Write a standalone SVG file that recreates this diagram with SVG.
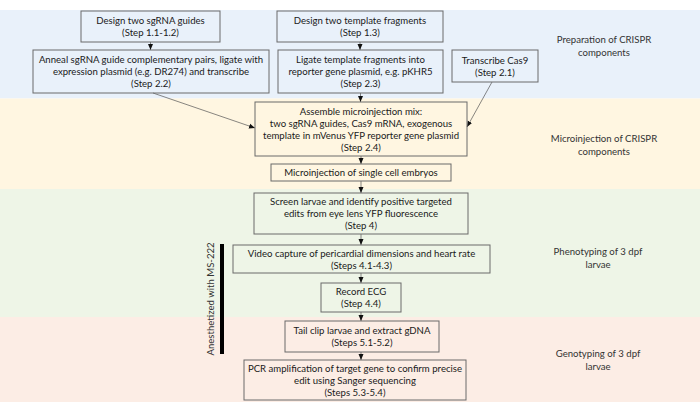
<svg xmlns="http://www.w3.org/2000/svg" width="700" height="412" viewBox="0 0 700 412">
<defs>
<style>
.box{fill:none;stroke:#6a6a6a;stroke-width:1}
.t{font-family:Lato,"Liberation Sans",sans-serif;font-size:9.6px;fill:#1a1a1a;text-anchor:middle}
.lab{font-family:Lato,"Liberation Sans",sans-serif;font-size:9.6px;fill:#333;text-anchor:middle}
.c{stroke:#555;stroke-width:0.7;fill:none;marker-end:url(#ah)}
</style>
<marker id="ah" viewBox="0 0 6 6" refX="6" refY="3" markerWidth="6" markerHeight="6" markerUnits="userSpaceOnUse" orient="auto">
<path d="M0,0.5 L6,3 L0,5.5 Z" fill="#111"/>
</marker>
</defs>
<rect width="700" height="412" fill="#fff"/>
<g id="bands">
<rect x="0" y="10" width="700" height="88.5" fill="#e9f1fa"/>
<rect x="0" y="98.5" width="700" height="90.5" fill="#fff6e1"/>
<rect x="0" y="189" width="700" height="128" fill="#eef5e7"/>
<rect x="0" y="317" width="700" height="85" fill="#fcede5"/>
</g>
<g id="labels">
<text class="lab" x="604" y="43">Preparation of CRISPR</text>
<text class="lab" x="604" y="56">components</text>
<text class="lab" x="604" y="142">Microinjection of CRISPR</text>
<text class="lab" x="604" y="155">components</text>
<text class="lab" x="598" y="255">Phenotyping of 3 dpf</text>
<text class="lab" x="598" y="268">larvae</text>
<text class="lab" x="598" y="357">Genotyping of 3 dpf</text>
<text class="lab" x="598" y="370">larvae</text>
</g>
<g id="anesthetized">
<rect x="220" y="244" width="4" height="110" fill="#000"/>
<text class="lab" transform="translate(214,299) rotate(-90)">Anesthetized with MS-222</text>
</g>
<g id="connectors">
<line class="c" x1="150.5" y1="42" x2="150.5" y2="50"/>
<line class="c" x1="360" y1="42" x2="360" y2="50"/>
<line class="c" x1="153" y1="93" x2="255" y2="128"/>
<line class="c" x1="360.5" y1="93" x2="360.5" y2="102"/>
<line class="c" x1="492" y1="82" x2="467" y2="127"/>
<line class="c" x1="361" y1="156" x2="361" y2="164"/>
<line class="c" x1="361" y1="181" x2="361" y2="193"/>
<line class="c" x1="361" y1="234" x2="361" y2="245"/>
<line class="c" x1="361" y1="273" x2="361" y2="283"/>
<line class="c" x1="361" y1="312" x2="361" y2="321"/>
<line class="c" x1="361" y1="352" x2="361" y2="360"/>
</g>
<g id="n1">
<rect class="box" x="81" y="11" width="139" height="31"/>
<text class="t" x="150.5" y="24">Design two sgRNA guides</text>
<text class="t" x="150.5" y="36">(Step 1.1-1.2)</text>
</g>
<g id="n2">
<rect class="box" x="277" y="11" width="166" height="31"/>
<text class="t" x="360" y="24">Design two template fragments</text>
<text class="t" x="360" y="36">(Step 1.3)</text>
</g>
<g id="n3">
<rect class="box" x="33" y="50" width="236" height="43"/>
<text class="t" x="151" y="63">Anneal sgRNA guide complementary pairs, ligate with</text>
<text class="t" x="151" y="75">expression plasmid (e.g. DR274) and transcribe</text>
<text class="t" x="151" y="87">(Step 2.2)</text>
</g>
<g id="n4">
<rect class="box" x="278" y="50" width="165" height="43"/>
<text class="t" x="360.5" y="63">Ligate template fragments into</text>
<text class="t" x="360.5" y="75">reporter gene plasmid, e.g. pKHR5</text>
<text class="t" x="360.5" y="87">(Step 2.3)</text>
</g>
<g id="n5">
<rect class="box" x="452" y="50" width="86" height="32"/>
<text class="t" x="495" y="63.5">Transcribe Cas9</text>
<text class="t" x="495" y="75.5">(Step 2.1)</text>
</g>
<g id="n6">
<rect class="box" x="255" y="102" width="212" height="54"/>
<text class="t" x="361" y="114.5">Assemble microinjection mix:</text>
<text class="t" x="361" y="126.5">two sgRNA guides, Cas9 mRNA, exogenous</text>
<text class="t" x="361" y="138.5">template in mVenus YFP reporter gene plasmid</text>
<text class="t" x="361" y="150.5">(Step 2.4)</text>
</g>
<g id="n7">
<rect class="box" x="271" y="164" width="180" height="17"/>
<text class="t" x="361" y="176">Microinjection of single cell embryos</text>
</g>
<g id="n8">
<rect class="box" x="254" y="193" width="214" height="41"/>
<text class="t" x="361" y="205">Screen larvae and identify positive targeted</text>
<text class="t" x="361" y="217">edits from eye lens YFP fluorescence</text>
<text class="t" x="361" y="229">(Step 4)</text>
</g>
<g id="n9">
<rect class="box" x="233" y="245" width="257" height="28"/>
<text class="t" x="361.5" y="256.5">Video capture of pericardial dimensions and heart rate</text>
<text class="t" x="361.5" y="268.5">(Steps 4.1-4.3)</text>
</g>
<g id="n10">
<rect class="box" x="321" y="283" width="80" height="29"/>
<text class="t" x="361" y="295">Record ECG</text>
<text class="t" x="361" y="307">(Step 4.4)</text>
</g>
<g id="n11">
<rect class="box" x="285" y="321" width="154" height="31"/>
<text class="t" x="362" y="334">Tail clip larvae and extract gDNA</text>
<text class="t" x="362" y="346">(Steps 5.1-5.2)</text>
</g>
<g id="n12">
<rect class="box" x="244" y="360" width="222" height="40"/>
<text class="t" x="355" y="371.5">PCR amplification of target gene to confirm precise</text>
<text class="t" x="355" y="383.5">edit using Sanger sequencing</text>
<text class="t" x="355" y="395.5">(Steps 5.3-5.4)</text>
</g>
</svg>
